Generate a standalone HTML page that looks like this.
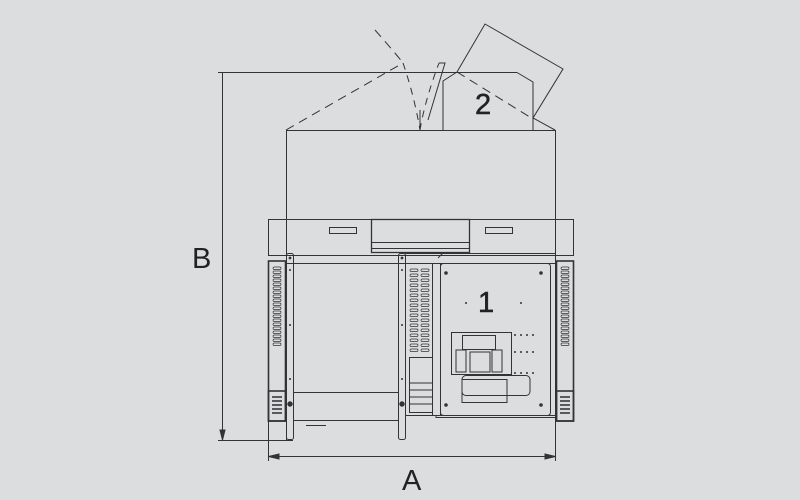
<!DOCTYPE html>
<html><head><meta charset="utf-8"><style>
html,body{margin:0;padding:0;background:#dcdddf;}
svg{display:block;}
text{font-family:"Liberation Sans",sans-serif;fill:#222;}
</style></head><body>
<svg width="800" height="500" viewBox="0 0 800 500" xmlns="http://www.w3.org/2000/svg">
<rect width="800" height="500" fill="#dcdddf"/>
<defs>
<g id="slot"><rect x="0" y="0" width="8" height="2.6" rx="1.3" fill="none" stroke="#333" stroke-width="0.7"/></g>
</defs>
<g stroke="#333" fill="none" stroke-width="1">
<line x1="222.5" y1="72.5" x2="222.5" y2="438"/>
<polygon points="222.5,440 220,430 225,430" fill="#333"/>
<line x1="218" y1="72.5" x2="517" y2="72.5"/>
<polyline points="517,72.5 533,82 533,130"/>
<line x1="218" y1="440.5" x2="293" y2="440.5"/>
<line x1="268.5" y1="420" x2="268.5" y2="461"/>
<line x1="555.5" y1="420" x2="555.5" y2="461"/>
<line x1="270" y1="456.5" x2="554" y2="456.5"/>
<polygon points="268.5,456.5 279,454 279,459" fill="#333"/>
<polygon points="555.5,456.5 545,454 545,459" fill="#333"/>
<polyline points="286.5,219 286.5,130.5 555.5,130.5 555.5,219"/>
<line x1="286.5" y1="130" x2="286.5" y2="440"/>
<line x1="555.5" y1="130" x2="555.5" y2="440"/>
<line x1="286" y1="130" x2="403" y2="63" stroke-dasharray="9,6"/>
<path d="M375,30 Q397,55 403,63" stroke-dasharray="9,6"/>
<path d="M403,63 Q414,95 420,130" stroke-dasharray="7,6"/>
<path d="M420,130 Q425,100 439,63" stroke-dasharray="7,6"/>
<polyline points="439,63 445,63 428,120"/>
<line x1="420" y1="110" x2="420" y2="130"/>
<polyline points="443,130.5 443,81 457,72"/>
<line x1="457" y1="72" x2="533" y2="119" stroke-dasharray="9,6"/>
<polyline points="457,72 485,24 563,69 533,118 555,130"/>
<rect x="268.5" y="219.5" width="305" height="36"/>
<line x1="286.5" y1="219.5" x2="286.5" y2="255"/>
<line x1="555.5" y1="219.5" x2="555.5" y2="255"/>
<rect x="371.5" y="219.5" width="98" height="33" stroke-width="1.3"/>
<line x1="372" y1="242.5" x2="469" y2="242.5"/>
<line x1="372" y1="248.5" x2="469" y2="248.5"/>
<rect x="329.5" y="227.5" width="27" height="6"/>
<rect x="485.5" y="227.5" width="27" height="6"/>
<line x1="286" y1="263.5" x2="556" y2="263.5"/>
<line x1="405" y1="253.5" x2="556" y2="253.5"/>
<line x1="438" y1="258" x2="443" y2="253"/>
<rect x="268.5" y="261" width="17" height="160" stroke-width="1.6"/>
<rect x="268.5" y="391" width="17" height="30" stroke-width="1.6"/>
<rect x="556.5" y="261" width="17" height="160" stroke-width="1.6"/>
<rect x="556.5" y="391" width="17" height="30" stroke-width="1.6"/>
<rect x="286.5" y="253.5" width="7" height="186" rx="2"/>
<rect x="398.5" y="253.5" width="7" height="186" rx="2"/>
<circle cx="290" cy="404" r="2.2" fill="#333"/>
<circle cx="402" cy="404" r="2.2" fill="#333"/>
<rect x="293.5" y="263.5" width="105" height="157"/>
<line x1="294" y1="392.5" x2="398" y2="392.5"/>
<line x1="306" y1="425.5" x2="326" y2="425.5"/>
<rect x="405.5" y="263.5" width="27" height="152"/>
<rect x="409.5" y="357.5" width="23" height="55"/>
<line x1="410" y1="383" x2="432" y2="383"/><line x1="410" y1="390" x2="432" y2="390"/>
<line x1="410" y1="397" x2="432" y2="397"/><line x1="410" y1="404" x2="432" y2="404"/>
<rect x="432.5" y="263.5" width="8" height="152"/>
<rect x="440.5" y="263.5" width="110" height="152" rx="3"/>
<rect x="436" y="415.5" width="120" height="2"/>
<rect x="451.5" y="332.5" width="60" height="42"/>
<rect x="462.5" y="335.5" width="33" height="14"/>
<rect x="456" y="350" width="10" height="22"/>
<rect x="470" y="352" width="20" height="20"/>
<rect x="492" y="350" width="10" height="22"/>
<rect x="462" y="379.5" width="45" height="23"/>
<rect x="462" y="375.5" width="68" height="20" rx="4"/>
</g>
<g fill="#333">
<circle cx="446" cy="273" r="1.8"/><circle cx="541" cy="273" r="1.8"/>
<circle cx="446" cy="405" r="1.8"/><circle cx="541" cy="405" r="1.8"/>
<circle cx="466" cy="303" r="1"/><circle cx="521" cy="303" r="1"/>
<circle cx="515" cy="335" r="1"/><circle cx="521" cy="335" r="1"/><circle cx="527" cy="335" r="1"/><circle cx="533" cy="335" r="1"/>
<circle cx="515" cy="352" r="1"/><circle cx="521" cy="352" r="1"/><circle cx="527" cy="352" r="1"/><circle cx="533" cy="352" r="1"/>
<circle cx="515" cy="373" r="1"/><circle cx="521" cy="373" r="1"/><circle cx="527" cy="373" r="1"/><circle cx="533" cy="373" r="1"/>
<circle cx="290" cy="270" r="1"/><circle cx="290" cy="325" r="1"/><circle cx="290" cy="379" r="1"/>
<circle cx="402" cy="270" r="1"/><circle cx="402" cy="325" r="1"/><circle cx="402" cy="379" r="1"/>
<circle cx="290" cy="258" r="1.4"/><circle cx="402" cy="258" r="1.4"/>
</g>
<g>
<use href="#slot" x="273" y="267"/><use href="#slot" x="273" y="271"/><use href="#slot" x="273" y="275"/><use href="#slot" x="273" y="279"/><use href="#slot" x="273" y="283"/><use href="#slot" x="273" y="287"/><use href="#slot" x="273" y="291"/><use href="#slot" x="273" y="295"/><use href="#slot" x="273" y="299"/><use href="#slot" x="273" y="303"/><use href="#slot" x="273" y="307"/><use href="#slot" x="273" y="311"/><use href="#slot" x="273" y="315"/><use href="#slot" x="273" y="319"/><use href="#slot" x="273" y="323"/><use href="#slot" x="273" y="327"/><use href="#slot" x="273" y="331"/><use href="#slot" x="273" y="335"/><use href="#slot" x="273" y="339"/><use href="#slot" x="273" y="343"/>
<use href="#slot" x="561" y="267"/><use href="#slot" x="561" y="271"/><use href="#slot" x="561" y="275"/><use href="#slot" x="561" y="279"/><use href="#slot" x="561" y="283"/><use href="#slot" x="561" y="287"/><use href="#slot" x="561" y="291"/><use href="#slot" x="561" y="295"/><use href="#slot" x="561" y="299"/><use href="#slot" x="561" y="303"/><use href="#slot" x="561" y="307"/><use href="#slot" x="561" y="311"/><use href="#slot" x="561" y="315"/><use href="#slot" x="561" y="319"/><use href="#slot" x="561" y="323"/><use href="#slot" x="561" y="327"/><use href="#slot" x="561" y="331"/><use href="#slot" x="561" y="335"/><use href="#slot" x="561" y="339"/><use href="#slot" x="561" y="343"/>
<use href="#slot" x="410" y="269"/><use href="#slot" x="410" y="274"/><use href="#slot" x="410" y="279"/><use href="#slot" x="410" y="284"/><use href="#slot" x="410" y="289"/><use href="#slot" x="410" y="294"/><use href="#slot" x="410" y="299"/><use href="#slot" x="410" y="304"/><use href="#slot" x="410" y="309"/><use href="#slot" x="410" y="314"/><use href="#slot" x="410" y="319"/><use href="#slot" x="410" y="324"/><use href="#slot" x="410" y="329"/><use href="#slot" x="410" y="334"/><use href="#slot" x="410" y="339"/><use href="#slot" x="410" y="344"/><use href="#slot" x="410" y="349"/>
<use href="#slot" x="421" y="269"/><use href="#slot" x="421" y="274"/><use href="#slot" x="421" y="279"/><use href="#slot" x="421" y="284"/><use href="#slot" x="421" y="289"/><use href="#slot" x="421" y="294"/><use href="#slot" x="421" y="299"/><use href="#slot" x="421" y="304"/><use href="#slot" x="421" y="309"/><use href="#slot" x="421" y="314"/><use href="#slot" x="421" y="319"/><use href="#slot" x="421" y="324"/><use href="#slot" x="421" y="329"/><use href="#slot" x="421" y="334"/><use href="#slot" x="421" y="339"/><use href="#slot" x="421" y="344"/><use href="#slot" x="421" y="349"/>
</g>
<g stroke="#222" stroke-width="1.4">
<line x1="272" y1="397" x2="282" y2="397"/><line x1="272" y1="401" x2="282" y2="401"/><line x1="272" y1="405" x2="282" y2="405"/><line x1="272" y1="409" x2="282" y2="409"/><line x1="272" y1="413" x2="282" y2="413"/>
<line x1="560" y1="397" x2="570" y2="397"/><line x1="560" y1="401" x2="570" y2="401"/><line x1="560" y1="405" x2="570" y2="405"/><line x1="560" y1="409" x2="570" y2="409"/><line x1="560" y1="413" x2="570" y2="413"/>
</g>
<text x="192" y="268" font-size="29">B</text>
<text x="402" y="490" font-size="29">A</text>
<text x="478" y="312" font-size="29" stroke="#222" stroke-width="0.5">1</text>
<text x="475" y="114" font-size="29" stroke="#222" stroke-width="0.5">2</text>
</svg>
</body></html>
